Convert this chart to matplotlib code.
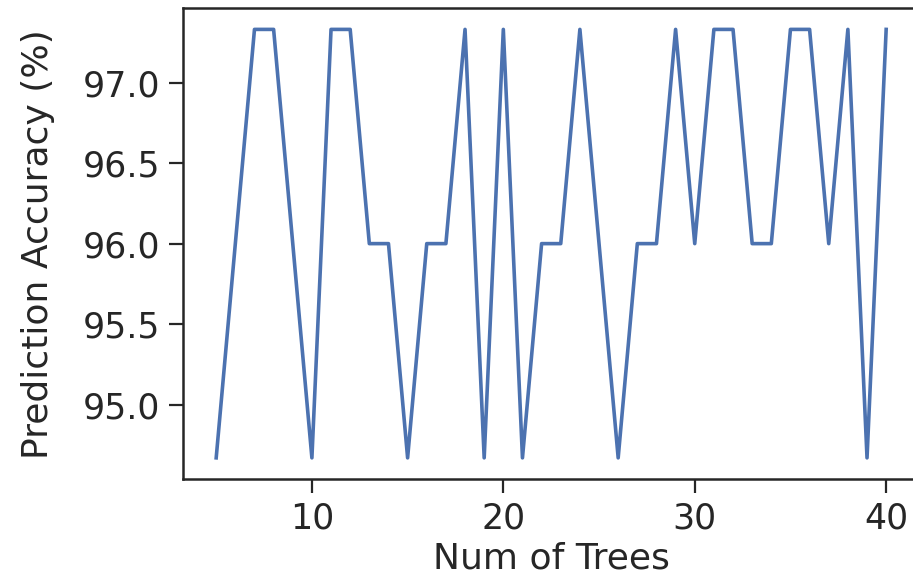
import matplotlib
matplotlib.use("Agg")
import matplotlib.pyplot as plt

# accuracy on the test split for each forest size
num_trees = list(range(5, 41))
accuracy = [94.67, 96.0, 97.33, 97.33, 96.0, 94.67, 97.33, 97.33, 96.0, 96.0,
            94.67, 96.0, 96.0, 97.33, 94.67, 97.33, 94.67, 96.0, 96.0, 97.33,
            96.0, 94.67, 96.0, 96.0, 97.33, 96.0, 97.33, 97.33, 96.0, 96.0,
            97.33, 97.33, 96.0, 97.33, 94.67, 97.33]
y_ticks = [95.0, 95.5, 96.0, 96.5, 97.0]
x_ticks = [10, 20, 30, 40]

text_color = '#262626'
plt.rcParams['font.family'] = 'DejaVu Sans'

fig = plt.figure(figsize=(9.13, 5.82), dpi=100)
ax = fig.add_axes([0.2001, 0.1765, 0.8072, 0.8098])

ax.plot(num_trees, accuracy, color='#4C72B0', linewidth=2.6)

ax.set_xticks(x_ticks)
ax.set_yticks(y_ticks)
ax.set_yticklabels(['%.1f' % v for v in y_ticks])
ax.tick_params(direction='out', length=10, width=1.6, colors=text_color,
               labelsize=25, pad=6)
ax.set_xlabel('Num of Trees', fontsize=26, color=text_color, labelpad=4)
ax.set_ylabel('Prediction Accuracy (%)', fontsize=26, color=text_color, labelpad=20)

for pos in ['left', 'bottom', 'top', 'right']:
    ax.spines[pos].set_color(text_color)
    ax.spines[pos].set_linewidth(1.8)

fig.savefig('out.png', dpi=100)
